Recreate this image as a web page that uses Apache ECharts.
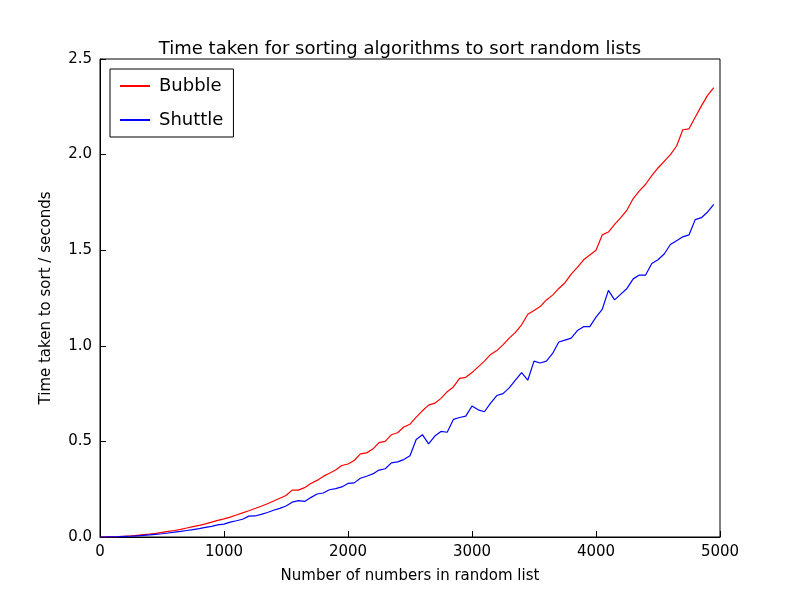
<!DOCTYPE html>
<html><head><meta charset="utf-8">
<script src="https://cdn.jsdelivr.net/npm/echarts@6/dist/echarts.min.js"></script>
<style>html,body{margin:0;background:#fff}#c{width:800px;height:597px}</style>
</head><body><div id="c"></div>
<script>
var xs = [];
for (var i = 0; i < 100; i++) xs.push(i * 50);
var bubble = [0,0.0003,0.001,0.002,0.004,0.006,0.009,0.012,0.015,0.019,
  0.024,0.029,0.034,0.040,0.047,0.054,0.061,0.069,0.078,0.087,
  0.095,0.104,0.115,0.126,0.137,0.149,0.161,0.174,0.188,0.203,
  0.217,0.245,0.245,0.258,0.28,0.296,0.317,0.333,0.350,0.374,
  0.382,0.400,0.435,0.440,0.460,0.494,0.500,0.535,0.545,0.575,
  0.590,0.627,0.66,0.69,0.70,0.725,0.76,0.785,0.83,0.835,
  0.86,0.89,0.92,0.955,0.975,1.005,1.04,1.07,1.11,1.165,
  1.185,1.205,1.24,1.265,1.30,1.33,1.375,1.41,1.45,1.475,
  1.50,1.58,1.595,1.635,1.67,1.71,1.77,1.81,1.845,1.89,
  1.93,1.965,2.00,2.045,2.13,2.135,2.195,2.255,2.31,2.35];
var shuttle = [0,0.0002,0.0008,0.0015,0.003,0.004,0.006,0.008,0.011,0.014,
  0.017,0.021,0.025,0.029,0.034,0.039,0.044,0.050,0.056,0.063,
  0.067,0.078,0.085,0.093,0.109,0.110,0.118,0.128,0.140,0.150,
  0.162,0.182,0.190,0.186,0.206,0.225,0.230,0.247,0.253,0.262,
  0.280,0.283,0.307,0.318,0.330,0.350,0.357,0.388,0.393,0.405,
  0.425,0.510,0.535,0.487,0.528,0.552,0.548,0.615,0.625,0.632,
  0.685,0.665,0.655,0.70,0.74,0.75,0.78,0.82,0.86,0.82,
  0.92,0.91,0.92,0.96,1.02,1.03,1.04,1.08,1.10,1.10,
  1.15,1.19,1.29,1.24,1.27,1.30,1.35,1.37,1.37,1.43,
  1.45,1.48,1.53,1.55,1.57,1.58,1.66,1.69,1.74,1.74];
shuttle[99] = 1.74; shuttle[98] = 1.70; shuttle[97] = 1.67;

function pairs(v){ return xs.map(function(x,i){ return [x, v[i]]; }); }

var chart = echarts.init(document.getElementById('c'));
var font = 'DejaVu Sans';
chart.setOption({
  animation: false,
  textStyle: {fontFamily: font},
  title: {text: 'Time taken for sorting algorithms to sort random lists', left: 'center', top: 35,
    textStyle: {fontFamily: font, fontSize: 18, fontWeight: 'normal', color: '#000'}},
  legend: {orient: 'vertical', left: 110, top: 69, itemWidth: 30, itemHeight: 2, itemGap: 16,
    borderColor: '#000', borderWidth: 1, borderRadius: 0, padding: [8, 10, 8, 10],
    icon: 'rect', textStyle: {fontFamily: font, fontSize: 18, color: '#000', padding: [0, 0, 0, 4]},
    data: ['Bubble', 'Shuttle']},
  grid: {left: 100, right: 80, top: 59, bottom: 60, show: true, borderColor: '#000', borderWidth: 1},
  xAxis: {type: 'value', min: 0, max: 5000, interval: 1000, name: 'Number of numbers in random list',
    nameLocation: 'middle', nameGap: 32, nameTextStyle: {fontSize: 15, color: '#000'},
    axisLine: {lineStyle: {color: '#000'}}, axisTick: {inside: true, length: 6, lineStyle: {color: '#000'}},
    axisLabel: {fontSize: 15, color: '#000', margin: 8, formatter: function(v){ return String(v); }}, splitLine: {show: false}},
  yAxis: {type: 'value', min: 0, max: 2.5, interval: 0.5, name: 'Time taken to sort / seconds',
    nameLocation: 'middle', nameGap: 46, nameTextStyle: {fontSize: 15, color: '#000'},
    axisLine: {show: true, lineStyle: {color: '#000'}}, axisTick: {inside: true, length: 6, lineStyle: {color: '#000'}},
    axisLabel: {fontSize: 15, color: '#000', formatter: function(v){ return v.toFixed(1); }}, splitLine: {show: false}},
  series: [
    {name: 'Bubble', type: 'line', data: pairs(bubble), showSymbol: false, color: '#ff0000', lineStyle: {width: 1.2}},
    {name: 'Shuttle', type: 'line', data: pairs(shuttle), showSymbol: false, color: '#0000ff', lineStyle: {width: 1.2}}
  ]
});
</script></body></html>
